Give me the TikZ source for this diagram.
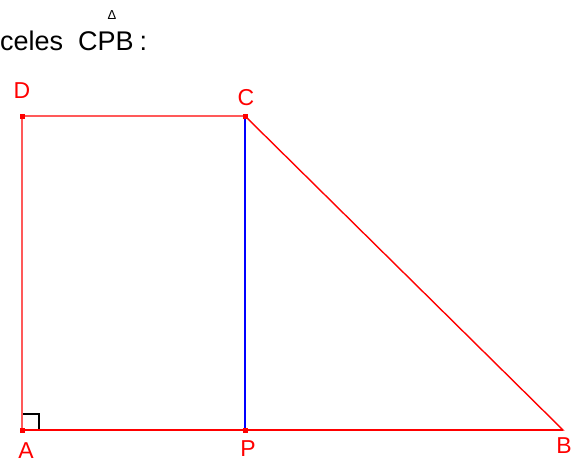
\documentclass[tikz,border=0pt]{standalone}
\usepackage{fontspec}
\setmainfont{Liberation Sans}
\begin{document}
\begin{tikzpicture}[x=1pt,y=-1pt,
  seg/.style={red, line width=1.4pt},
  hgt/.style={blue, line width=1.4pt},
  pt/.style={fill=red, minimum size=5pt, inner sep=0pt, draw=none},
  lbl/.style={red, font=\fontsize{23}{23}\selectfont, inner sep=0pt},
  ttl/.style={black, font=\fontsize{27}{27}\selectfont, inner sep=0pt, anchor=base west}]
\useasboundingbox (0,0) rectangle (579,464);
\fill[white] (0,0) rectangle (579,464);
\coordinate (A) at (22,430);
\coordinate (D) at (22,116);
\coordinate (C) at (245,116);
\coordinate (P) at (245,430);
\coordinate (B) at (563,430);
\draw[seg] (A) -- (D) -- (C) -- (B) -- (A);
\draw[hgt] (C) -- (P);
\draw[black, line width=1.2pt] (23,414) -- (39,414) -- (39,430);
\draw[seg] (A) -- (B);
\node[pt] (pA) at (A) {};
\node[pt] (pD) at (D) {};
\node[pt] (pC) at (C) {};
\node[pt] (pP) at (P) {};
\node[lbl] (lD) at (22,91) {D};
\node[lbl] (lC) at (246,98) {C};
\node[lbl] (lA) at (26,451) {A};
\node[lbl] (lP) at (248,449) {P};
\node[lbl] (lB) at (564,446) {B};
\node[ttl] (t) at (0,50) {celes\ \ CPB\hspace{6pt}:};
\node[black, font=\fontsize{13}{13}\selectfont, inner sep=0pt] (tri) at (112,15) {Δ};
\end{tikzpicture}
\end{document}
